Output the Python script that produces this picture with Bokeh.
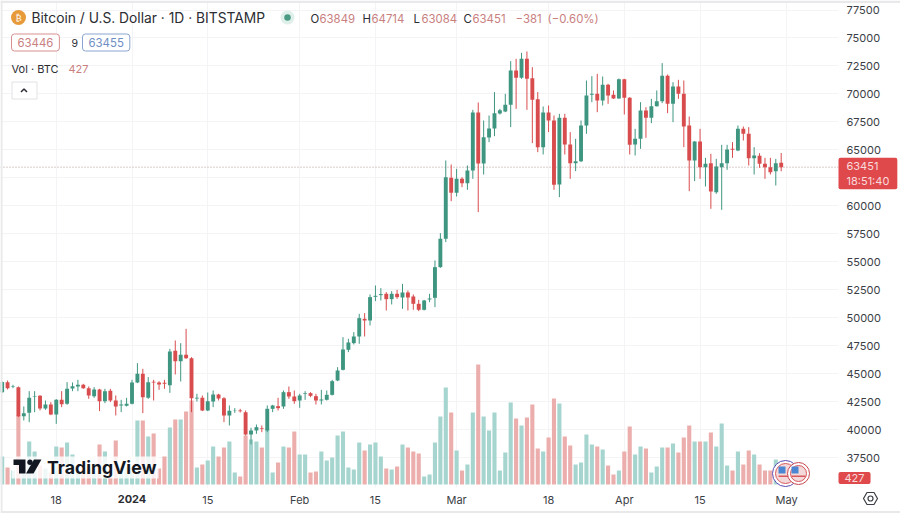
from bokeh.plotting import figure
from bokeh.models import Range1d, FixedTicker, Label, Span, ColumnDataSource
from bokeh.embed import file_html
from bokeh.resources import INLINE

# days counted from 1 Jan 2024
first_day = -24
open_ = [43340,44237,43820,43790,41200,41496,42926,43015,41884,42241,41347,42658,42300,43671,43850,44000,43701,42986,43581,42539,43462,42598,42152,42122,
 42300,44207,44982,42837,44267,44207,44177,43969,47037,46114,46680,46382,42777,42837,41705,42509,43135,42807,41258,41705,41705,41556,39560,39917,40126,39917,
 41853,42091,42062,43343,42955,42598,43194,43253,42985,42598,42657,43104,44385,45340,47128,47724,48319,49898,49749,51865,52014,52133,51656,52133,51805,52252,51894,51239,50703,51626,51775,54516,57048,
 62500,61160,62411,62024,63156,68339,63782,66105,66909,68250,68429,69025,72093,71438,73136,71408,69531,65241,68339,67624,61905,67863,65480,63811,63990,67178,69918,70008,69412,70812,69918,69591,71318,69650,
 65479,65986,68518,67862,68905,69352,71616,69114,70663,70007,67177,64049,65747,63453,63811,61219,63453,63811,65092,64943,66879,66432,64258,64466,63751,63453,63096,63849]
high = [44300,44386,44000,43850,42062,43432,43432,43075,42598,42450,42718,43432,44237,44207,44445,44088,43850,43790,43641,43641,43641,43045,42658,42837,
 44445,45935,45428,44684,44445,44326,44445,47216,47961,47722,49003,46471,43194,43045,43313,43492,43194,42896,42152,41913,41854,41705,40155,40453,40364,42152,
 42211,42836,43491,43849,43491,43194,43432,43343,43194,43551,43491,44445,45577,48260,48111,48707,50345,50405,52073,52877,52639,52282,52371,52490,53026,52431,52073,51596,51596,52133,55112,57554,64050,
 63692,63305,62560,63603,68578,69233,67624,68071,70157,68667,70008,72927,73136,73672,73791,72391,70157,68876,68965,68071,68220,68220,66582,65986,67624,71199,71586,71795,71557,70901,70306,71378,71348,69710,
 66879,69263,68816,69560,70305,72748,71735,71050,71258,71199,67982,65777,66879,64288,64645,64198,65449,65449,65688,67177,67088,67028,65241,64705,64288,64288,64198,64714]
low = [43280,43581,43700,41110,40811,40662,41556,41705,41764,41288,40513,42003,42211,43432,43432,43641,42747,42837,41645,42360,42450,41258,41556,42062,
 42241,44147,41466,42747,42598,43552,43641,43283,44922,44296,46322,41556,42509,41645,41650,42003,42598,40662,40364,41496,41526,39470,38666,39619,39768,39768,
 41555,41704,41853,42747,42300,41942,42657,42896,42240,42240,42598,43045,44326,45281,46919,47604,47664,48319,49303,51477,51537,50643,51179,51686,50792,50643,50703,50584,50643,51388,50941,54456,56750,
 60415,60832,61666,61428,62411,59432,62798,65688,66224,68161,68369,67029,68667,71348,68578,65599,64794,64586,66582,61428,60773,64586,62411,63096,63901,66433,69263,68369,68965,69114,69561,69561,68161,64586,
 64496,65092,66075,67386,68875,69173,68279,67475,69560,65241,61309,62202,62411,61726,59730,61070,59640,63215,64288,64883,65837,63602,62798,63394,62411,62798,61815,63084]
close = [44240,43701,43880,41200,41466,42837,42986,41884,42241,41347,42658,42271,43641,43880,44000,43701,43045,43581,42539,43432,42598,42062,42241,42300,
 44207,44982,42896,44237,44207,44028,44088,46978,46114,46680,46382,42807,42837,41705,42539,43135,42777,41258,41675,41735,41645,39560,39917,40215,40066,41854,
 42151,41913,43343,42955,42538,43045,43253,43015,42598,42687,43104,44326,45279,47158,47783,48319,49958,49749,51835,51954,52103,51656,52133,51835,52252,51805,51239,50703,51537,51715,54516,57048,62560,
 61160,62411,62024,63156,68339,63782,66135,66909,68280,68548,69025,72093,71438,73136,71348,69471,65241,68339,67624,61875,67863,65480,63811,63990,67178,69859,70008,69412,70812,69859,69591,71318,69650,65450,
 65986,68518,67862,68905,69352,71616,69114,70663,70007,67088,64049,65747,63453,63751,61279,63513,63811,65032,65003,66879,66432,64258,64496,63751,63453,63006,63811,63451]
volume = [1708,1037,854,4209,1159,2623,2013,1159,976,732,2318,2257,2562,1830,854,976,976,976,2440,2013,610,2684,1037,1037,
 1037,3904,3904,2928,3111,976,1708,3477,3965,3965,4453,5124,1037,1220,1464,2318,1708,2257,2623,732,488,2989,2745,2623,2257,3416,
 732,1342,2318,2257,3233,1830,1830,732,793,2013,1464,1647,2989,3233,1037,915,2562,2074,2440,2562,1708,976,915,1098,2440,2257,2013,1891,488,610,2562,4148,5917,
 4392,2074,854,1220,4392,7320,4148,3294,4392,854,1952,5002,4026,3599,4087,4880,2196,2013,2867,5246,4941,2928,2379,1220,1342,3050,2440,2318,2135,1159,610,854,2013,3538,
 1830,2318,2196,732,1098,2257,2257,2501,1952,2867,3599,2623,2623,2623,3172,2318,3721,1159,854,2013,1220,2074,1830,1220,854,854,1525,427]

price_ticks = list(range(37500, 77501, 2500))
date_ticks = [-14, 14, 31, 45, 60, 77, 91, 105, 121]
date_labels = ["18", "15", "Feb", "15", "Mar", "18", "Apr", "15", "May"]
year_tick, year_label = 0, "2024"
last_price, countdown = 63451, "18:51:40"

UP, DOWN = "#3f9680", "#d94c4e"
VUP, VDOWN = "#a6d5cf", "#ebaeac"
FONT = "Inter"
INK = "#2b2d33"
PALE_RED = "#c9807f"
PX_PER_DAY = 5.41

days = [first_day + i for i in range(len(close))]
up = [c >= o for o, c in zip(open_, close)]
src = ColumnDataSource(dict(
    day=days, low=low, high=high,
    top=[max(o, c) for o, c in zip(open_, close)],
    bottom=[min(o, c) for o, c in zip(open_, close)],
    vol=volume,
    color=[UP if u else DOWN for u in up],
    vcolor=[VUP if u else VDOWN for u in up],
))

W, H = 900, 513
PANE_R, PANE_B = 838, 487
day_at = lambda px: (px - 131.5) / PX_PER_DAY
price_at = lambda py: 77500 - (py - 9.5) * 89.38
p = figure(width=W, height=H, output_backend="svg", toolbar_location=None,
           x_range=Range1d(day_at(0), day_at(W)), y_range=Range1d(price_at(H), price_at(0)),
           x_axis_location="below", y_axis_location="right",
           min_border_left=0, min_border_top=0, min_border_right=0, min_border_bottom=0,
           background_fill_color="white", border_fill_color="white")
p.outline_line_color = None
p.extra_y_ranges["vol"] = Range1d(-29 * 61, 484 * 61)
p.extra_x_ranges["px_x"] = Range1d(0, W)
p.extra_y_ranges["px_y"] = Range1d(H, 0)
PX = dict(x_range_name="px_x", y_range_name="px_y")

for ax in (p.xaxis[0], p.yaxis[0]):
    ax.axis_line_color = None
    ax.major_tick_line_color = None
    ax.minor_tick_line_color = None
    ax.major_tick_out = 0
    ax.major_tick_in = 0
    ax.major_label_text_font = FONT
    ax.major_label_text_font_size = "11px"
    ax.major_label_text_color = "#3b3e45"
p.xaxis[0].fixed_location = price_at(PANE_B)
p.yaxis[0].fixed_location = day_at(PANE_R)
p.xaxis[0].ticker = FixedTicker(ticks=sorted(date_ticks + [year_tick]))
p.xaxis[0].major_label_overrides = {**dict(zip(date_ticks, date_labels)), year_tick: ""}
p.xaxis[0].major_label_standoff = 5
p.yaxis[0].ticker = FixedTicker(ticks=price_ticks)
p.yaxis[0].major_label_standoff = 8
p.yaxis[0].formatter.use_scientific = False
p.xgrid.grid_line_color = "#f4f4f6"
p.ygrid.grid_line_color = "#f4f4f6"

p.add_layout(Span(location=last_price, dimension="width", line_color="#b59b9b", line_dash="1 2",
                  line_width=1, level="underlay"))

# keep grid and price line out of the axis panes
p.quad(left=[PANE_R], right=[W], top=[0], bottom=[H], fill_color="white", line_width=0, **PX)
p.quad(left=[0], right=[W], top=[PANE_B], bottom=[H], fill_color="white", line_width=0, **PX)

p.vbar("day", 0.76, "vol", 0, source=src, y_range_name="vol", color="vcolor", line_width=0)
p.segment("day", "high", "day", "low", source=src, color="color", line_width=1)
p.vbar("day", 0.72, "top", "bottom", source=src, color="color", line_width=0)


def L(x, y, text, size=11, color=INK, align="left", style="normal", font=FONT, **kw):
    lab = Label(x=x, y=y, text=text, text_font=font, text_font_size=f"{size}px", text_color=color,
                text_align=align, text_baseline="middle", text_font_style=style, **PX, **kw)
    p.add_layout(lab)
    return lab


# window edge
p.quad(left=[0, 0, 0], right=[900, 2, 900], top=[0, 0, 510.5], bottom=[2.5, 513, 513],
       fill_color="#e9e9eb", line_width=0, **PX)

# header
p.scatter([18], [17], size=15, color="#e79a3a", line_width=0, **PX)
L(18, 17, "₿", 9, "white", "center", font="DejaVu Sans")
L(31, 17, "Bitcoin / U.S. Dollar · 1D · BITSTAMP", 13.8)
p.scatter([287], [17], size=14, color="#dff0ea", line_width=0, **PX)
p.scatter([287], [17], size=6.5, color="#4a9a84", line_width=0, **PX)
for x, t, c in [(310, "O", INK), (319, "63849", PALE_RED), (362, "H", INK), (371, "64714", PALE_RED),
                (413, "L", INK), (421, "63084", PALE_RED), (463, "C", INK), (472, "63451", PALE_RED),
                (515, "−381", PALE_RED), (547, "(−0.60%)", PALE_RED)]:
    L(x, 18, t, 11.4, c)
L(11, 42, "63446", 11.4, PALE_RED, border_line_color="#d98f8f", background_fill_color="white",
  padding=(6, 4), border_radius=3)
L(71, 42, "9", 10.5, INK)
L(82, 42, "63455", 11.4, "#6f8fc4", border_line_color="#8aa5d0", background_fill_color="white",
  padding=(6, 4), border_radius=3)
L(11, 68, "Vol · BTC", 11, INK)
L(68, 68, "427", 11, PALE_RED)
p.quad(left=[11.5], right=[36.5], top=[81.5], bottom=[98.5], fill_color="white", line_color="#e2e2e6", **PX)
p.line([20.5, 23.5, 26.5], [91.5, 88.5, 91.5], line_color=INK, line_width=1.5, **PX)

# watermark
p.quad(left=[11], right=[158], top=[456], bottom=[478], fill_color="white", fill_alpha=0.82, line_width=0, **PX)
p.patch([13, 25, 25, 18.5, 18.5, 13], [459, 459, 473, 473, 464.5, 464.5], color="#131722", line_width=0, **PX)
p.scatter([29.5], [461.8], size=5.4, color="#131722", line_width=0, **PX)
p.patch([33.5, 41, 33, 25.5], [459, 459, 473, 473], color="#131722", line_width=0, **PX)
L(46.5, 467, "TradingView", 17.7, "#131722", style="bold")

# event badges
for cx, rad, ring in [(785, 26, "#5b4bb5"), (798, 22, "#c9474f")]:
    p.scatter([cx], [473], size=rad, fill_color="white", line_color=ring, line_width=1, **PX)
    p.scatter([cx], [473], size=rad - 6, fill_color="#f4d9da", line_color="#d8585c", line_width=1, **PX)
    p.quad(left=[cx - 7], right=[cx], top=[466], bottom=[473], fill_color="#4a86d1", line_width=0, **PX)
    p.quad(left=[cx - 7], right=[cx + 7], top=[475], bottom=[476.5], fill_color="#d8585c", line_width=0, **PX)

# date axis bold year
L(year_tick * PX_PER_DAY + 131.5, 498, year_label, 11, INK, "center", "bold")

# price tags
L(838, 173, f"{last_price}\n{countdown}", 11, "#f7dcdc", background_fill_color="#e0494c", padding=(8, 1),
  border_radius=2, text_line_height=1.1)
L(838, 477.5, "427", 11, "#f7dcdc", background_fill_color="#e0494c", padding=(6, 2), border_radius=2)

# settings icon
p.patch([863, 866.5, 873.5, 877, 873.5, 866.5], [498, 492, 492, 498, 504, 504], fill_alpha=0,
        line_color="#3b3e45", line_width=1.2, **PX)
p.scatter([870], [498], size=5, fill_color="white", line_color="#3b3e45", line_width=1.2, **PX)

open("out.html", "w").write(file_html(p, INLINE))
